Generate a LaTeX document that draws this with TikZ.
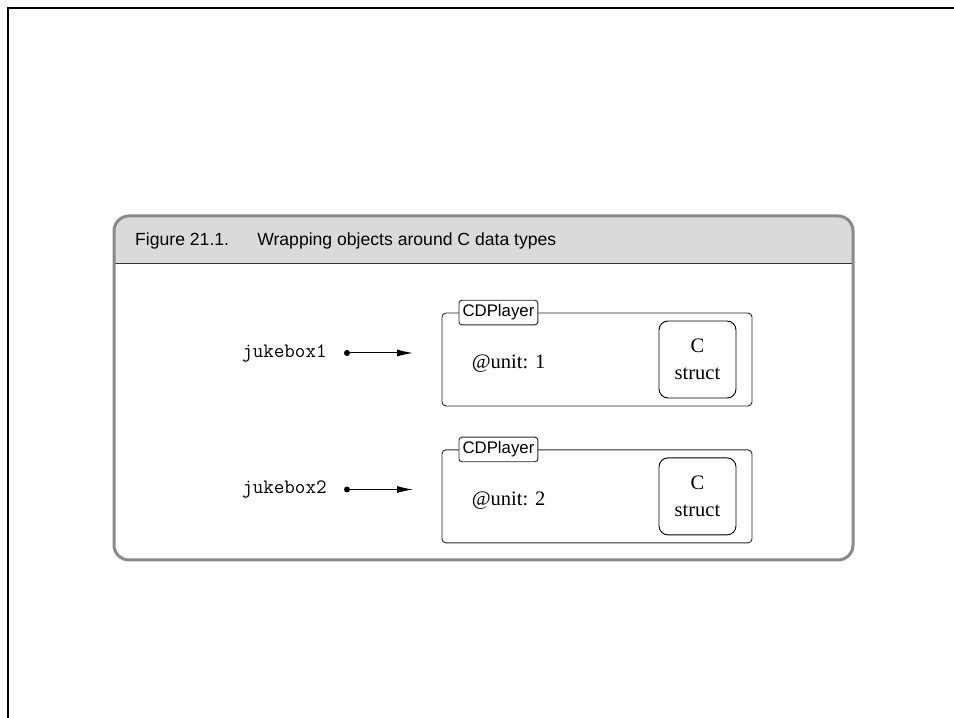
\documentclass[tikz,border=0pt]{standalone}
\usepackage{fontspec}
\setmainfont{Liberation Serif}
\setsansfont{Liberation Sans}
\usetikzlibrary{arrows.meta,positioning}

\definecolor{headfill}{RGB}{218,218,218}
\definecolor{framegray}{RGB}{138,138,138}

\begin{document}
\begin{tikzpicture}[x=1pt,y=1pt,>={Latex[length=16pt,width=7pt]},
	frame box/.style={draw=framegray,line width=3pt,rounded corners=15pt,minimum width=739pt,minimum height=344pt,inner sep=0pt},
	object box/.style={draw=black!85,line width=0.9pt,rounded corners=4pt,minimum width=310pt,minimum height=93pt,inner sep=0pt},
	tag/.style={draw=black!85,fill=white,line width=0.9pt,rounded corners=3pt,inner xsep=3.5pt,inner ysep=4.5pt,font=\sffamily\fontsize{16.8}{18}\selectfont},
	struct box/.style={draw,line width=0.9pt,rounded corners=9pt,minimum size=77pt,inner sep=0pt,align=center,font=\fontsize{20.5}{27}\selectfont},
	var/.style={inner sep=0pt,font=\ttfamily\fontsize{20.5}{22}\selectfont},
	field/.style={inner sep=0pt,font=\fontsize{20.5}{22}\selectfont},
	dot/.style={circle,fill=black,inner sep=0pt,minimum size=6pt}]
	
	\useasboundingbox (0,0) rectangle (954,718);
	
	% page edge
	\draw[line width=2.4pt] (8,0) -- (8,710) -- (954,710);
	
	% figure frame with grey caption band
	\begin{scope}
		\clip[rounded corners=15pt] (114,158) rectangle (853,502);
		\fill[headfill] (114,455) rectangle (853,502);
	\end{scope}
	\draw[black!80,line width=0.8pt] (114,455) -- (853,455);
	\node[frame box] (fig) at (483.5,330) {};
	\node[anchor=west,inner sep=0pt,font=\sffamily\fontsize{17.6}{20}\selectfont] (caption) at (135,477) {Figure 21.1.\hspace{1.6em}Wrapping objects around C data types};
	
	% first object
	\node[object box] (obj1) at (597,358.5) {};
	\node[tag,anchor=west,xshift=17pt] (tag1) at (obj1.north west) {CDPlayer};
	\node[struct box,anchor=east,xshift=-16pt] (cs1) at (obj1.east) {C\\struct};
	\node[field,anchor=west,xshift=30pt,yshift=-4.5pt] (unit1) at (obj1.west) {@unit: 1};
	\node[var,anchor=west] (jb1) at (242,365) {jukebox1};
	\node[dot] (dot1) at (347,365) {};
	\coordinate (tip1) at (413,365);
	
	% second object
	\node[object box] (obj2) [below=43pt of obj1] {};
	\node[tag,anchor=west,xshift=17pt] (tag2) at (obj2.north west) {CDPlayer};
	\node[struct box,anchor=east,xshift=-16pt] (cs2) at (obj2.east) {C\\struct};
	\node[field,anchor=west,xshift=30pt,yshift=-4.5pt] (unit2) at (obj2.west) {@unit: 2};
	\node[var,anchor=west] (jb2) at (242,228.5) {jukebox2};
	\node[dot] (dot2) at (347,228.5) {};
	\coordinate (tip2) at (413,228.5);
	
	\path[->,line width=1pt]
	(dot1) edge (tip1)
	(dot2) edge (tip2);
	
\end{tikzpicture}
\end{document}
